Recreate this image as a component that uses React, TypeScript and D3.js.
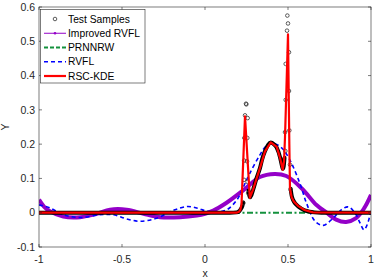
import React, { useEffect, useRef } from 'react';
import * as d3 from 'd3';

// x ticks / y ticks
const xTicks = [-1, -0.5, 0, 0.5, 1];
const yTicks = [-0.1, 0, 0.1, 0.2, 0.3, 0.4, 0.5, 0.6];

// test samples, dense part (circles merge into a band)
const bandLeftX = [-1, -0.5, 0, 0.15, 0.19, 0.205, 0.215, 0.225, 0.23];
const bandLeftY = [0, 0, 0, 0, 0.001, 0.004, 0.01, 0.02, 0.03];
const bandMidX = [0.262, 0.267, 0.271, 0.28, 0.29, 0.31, 0.331, 0.345, 0.361, 0.38, 0.396, 0.415, 0.432, 0.452, 0.462, 0.469, 0.474, 0.479];
const bandMidY = [0.065, 0.05, 0.045, 0.052, 0.067, 0.1, 0.13, 0.157, 0.179, 0.198, 0.205, 0.2, 0.19, 0.162, 0.14, 0.128, 0.135, 0.16];
const bandRightX = [0.516, 0.522, 0.532, 0.545, 0.56, 0.58, 0.6, 0.63, 0.66, 0.7, 1];
const bandRightY = [0.07, 0.05, 0.036, 0.026, 0.019, 0.012, 0.007, 0.003, 0.001, 0, 0];

// test samples on the spikes (isolated circles)
const spikeX = [0.231, 0.235, 0.236, 0.237, 0.241, 0.247, 0.249, 0.257, 0.255, 0.253, 0.256, 0.26,
  0.496, 0.5, 0.494, 0.506, 0.486, 0.506, 0.486, 0.508, 0.482, 0.484, 0.512, 0.516];
const spikeY = [0.028, 0.096, 0.152, 0.218, 0.284, 0.318, 0.316, 0.276, 0.218, 0.15, 0.09, 0.057,
  0.575, 0.552, 0.531, 0.468, 0.434, 0.355, 0.329, 0.24, 0.235, 0.18, 0.14, 0.067];

// Improved RVFL
const irvflX = [-1, -0.97, -0.934, -0.854, -0.753, -0.652, -0.572, -0.472, -0.37, -0.27, -0.15, -0.05, 0, 0.05, 0.13, 0.235, 0.33, 0.42, 0.49, 0.585, 0.67, 0.733, 0.79, 0.85, 0.91, 0.96, 1];
const irvflY = [0.038, 0.018, 0.004, -0.011, -0.013, -0.003, 0.009, 0.009, -0.003, -0.013, -0.013, -0.008, -0.003, 0.006, 0.029, 0.067, 0.104, 0.113, 0.107, 0.07, 0.023, 0.0, -0.02, -0.027, -0.016, 0.014, 0.052];

// PRNNRW
const prnnX = [-1, 1];
const prnnY = [0, 0];

// RVFL
const rvflX = [-1, -0.934, -0.854, -0.753, -0.633, -0.552, -0.472, -0.392, -0.291, -0.19, -0.11, -0.05, 0.012, 0.072, 0.133, 0.193, 0.233, 0.27, 0.33, 0.37, 0.41, 0.46, 0.51, 0.572, 0.61, 0.663, 0.713, 0.773, 0.823, 0.863, 0.904, 0.934, 0.958, 0.984, 1];
const rvflY = [0.023, 0.014, -0.006, -0.014, -0.006, -0.006, -0.018, -0.025, -0.016, 0.007, 0.018, 0.014, 0.004, 0.002, 0.009, 0.038, 0.077, 0.115, 0.168, 0.195, 0.202, 0.19, 0.155, 0.085, 0.03, -0.025, -0.037, -0.015, 0.009, 0.017, -0.001, -0.03, -0.05, -0.025, 0.009];

// RSC-KDE
const rscX = [-1, 0.19, 0.205, 0.213, 0.22, 0.241, 0.27, 0.29, 0.331, 0.361, 0.396, 0.432, 0.452, 0.468, 0.476, 0.482, 0.5, 0.508, 0.512, 0.522, 0.535, 0.56, 0.6, 0.65, 1];
const rscY = [0, 0, 0.003, 0.008, 0.025, 0.281, 0.043, 0.068, 0.13, 0.178, 0.205, 0.192, 0.16, 0.125, 0.15, 0.22, 0.52, 0.2, 0.07, 0.045, 0.033, 0.02, 0.008, 0.001, 0];

const legendNames = ['Test Samples', 'Improved RVFL', 'PRNNRW', 'RVFL', 'RSC-KDE'];

const FONT = '"Liberation Sans", Arial, sans-serif';
const AXIS = '#262626';

export default function App() {
  const ref = useRef<SVGSVGElement>(null);

  useEffect(() => {
    const svg = d3.select(ref.current);
    svg.selectAll('*').remove();

    const left = 39, right = 371, top = 7, bottom = 247;
    const x = d3.scaleLinear().domain([-1, 1]).range([left, right]);
    const y = d3.scaleLinear().domain([-0.1, 0.6]).range([bottom, top]);

    svg.append('rect').attr('width', 374).attr('height', 280).attr('fill', '#fff');

    svg.append('defs').append('clipPath').attr('id', 'plot-clip')
      .append('rect').attr('x', left).attr('y', top - 2).attr('width', right - left).attr('height', bottom - top + 2);

    const plot = svg.append('g').attr('clip-path', 'url(#plot-clip)');

    const line = (xs: number[], ys: number[], curve: any) =>
      d3.line<number>().x((d) => x(xs[d])).y((d) => y(ys[d])).curve(curve)(d3.range(xs.length));

    // Improved RVFL
    plot.append('path').attr('d', line(irvflX, irvflY, d3.curveCatmullRom))
      .attr('fill', 'none').attr('stroke', '#9400C8').attr('stroke-width', 4);

    // PRNNRW
    plot.append('path').attr('d', line(prnnX, prnnY, d3.curveLinear))
      .attr('fill', 'none').attr('stroke', '#13913d').attr('stroke-width', 2)
      .attr('stroke-dasharray', '6,2.5,2,2.5');

    // RVFL
    plot.append('path').attr('d', line(rvflX, rvflY, d3.curveCatmullRom))
      .attr('fill', 'none').attr('stroke', '#0000FF').attr('stroke-width', 1.6)
      .attr('stroke-dasharray', '4,3');

    // Test samples: band + circles
    [[bandLeftX, bandLeftY], [bandMidX, bandMidY], [bandRightX, bandRightY]].forEach(([xs, ys]) => {
      plot.append('path').attr('d', line(xs, ys, d3.curveMonotoneX))
        .attr('fill', 'none').attr('stroke', '#000').attr('stroke-width', 4)
        .attr('stroke-linecap', 'round');
    });
    plot.selectAll('circle.spk').data(d3.range(spikeX.length)).enter()
      .append('circle')
      .attr('cx', (i) => x(spikeX[i])).attr('cy', (i) => y(spikeY[i])).attr('r', 1.8)
      .attr('fill', 'none').attr('stroke', '#333').attr('stroke-width', 0.8);

    // RSC-KDE
    plot.append('path').attr('d', line(rscX, rscY, d3.curveLinear))
      .attr('fill', 'none').attr('stroke', '#FF0000').attr('stroke-width', 2.2)
      .attr('stroke-linejoin', 'round');

    // axes box
    svg.append('rect').attr('x', left).attr('y', top).attr('width', right - left).attr('height', bottom - top)
      .attr('fill', 'none').attr('stroke', AXIS).attr('stroke-width', 0.6);

    const tl = 3;
    xTicks.forEach((t) => {
      svg.append('line').attr('x1', x(t)).attr('x2', x(t)).attr('y1', bottom).attr('y2', bottom - tl)
        .attr('stroke', AXIS).attr('stroke-width', 0.6);
      svg.append('line').attr('x1', x(t)).attr('x2', x(t)).attr('y1', top).attr('y2', top + tl)
        .attr('stroke', AXIS).attr('stroke-width', 0.6);
      svg.append('text').attr('x', x(t)).attr('y', 263).attr('text-anchor', 'middle')
        .attr('font-family', FONT).attr('font-size', 10.5).attr('fill', AXIS).text(String(t));
    });
    yTicks.forEach((t) => {
      svg.append('line').attr('x1', left).attr('x2', left + tl).attr('y1', y(t)).attr('y2', y(t))
        .attr('stroke', AXIS).attr('stroke-width', 0.6);
      svg.append('line').attr('x1', right).attr('x2', right - tl).attr('y1', y(t)).attr('y2', y(t))
        .attr('stroke', AXIS).attr('stroke-width', 0.6);
      svg.append('text').attr('x', 35).attr('y', y(t) + 3.7).attr('text-anchor', 'end')
        .attr('font-family', FONT).attr('font-size', 10.5).attr('fill', AXIS)
        .text(String(Math.round(t * 10) / 10));
    });

    svg.append('text').attr('x', x(0)).attr('y', 277).attr('text-anchor', 'middle')
      .attr('font-family', FONT).attr('font-size', 10.5).attr('fill', AXIS).text('x');
    svg.append('text').attr('transform', `translate(9,${(top + bottom) / 2}) rotate(-90)`)
      .attr('text-anchor', 'middle').attr('font-family', FONT).attr('font-size', 10.5)
      .attr('fill', AXIS).text('Y');

    // legend
    const lg = svg.append('g');
    lg.append('rect').attr('x', 40.5).attr('y', 9.5).attr('width', 104.5).attr('height', 73.5)
      .attr('fill', '#fff').attr('stroke', AXIS).attr('stroke-width', 0.6);
    const rowY = d3.scalePoint<number>().domain(d3.range(legendNames.length)).range([19, 76]);
    legendNames.forEach((name, i) => {
      const yy = rowY(i) as number;
      const g = lg.append('g');
      if (i === 0) {
        g.append('circle').attr('cx', 55).attr('cy', yy).attr('r', 1.8)
          .attr('fill', 'none').attr('stroke', '#333').attr('stroke-width', 0.8);
      } else {
        const styles = [
          null,
          { c: '#9400C8', w: 1, d: null },
          { c: '#13913d', w: 2, d: '4,2' },
          { c: '#0000FF', w: 1.6, d: '4,3' },
          { c: '#FF0000', w: 2.2, d: null },
        ][i] as any;
        g.append('line').attr('x1', 44).attr('x2', 66).attr('y1', yy).attr('y2', yy)
          .attr('stroke', styles.c).attr('stroke-width', styles.w)
          .attr('stroke-dasharray', styles.d);
        if (i === 1) {
          g.append('circle').attr('cx', 55).attr('cy', yy).attr('r', 1.3).attr('fill', styles.c);
        }
      }
      g.append('text').attr('x', 68).attr('y', yy + 3.7).attr('font-family', FONT)
        .attr('font-size', 10.3).attr('fill', '#000').text(name);
    });
  }, []);

  return (
    <svg ref={ref} width={374} height={280} style={{ position: 'absolute', left: 0, top: 0 }} />
  );
}
